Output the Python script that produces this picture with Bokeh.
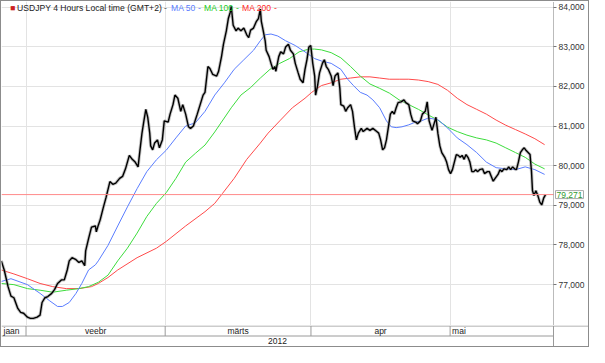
from bokeh.plotting import figure
from bokeh.layouts import column
from bokeh.models import Range1d, FixedTicker, CustomJSTickFormatter, Label, ColumnDataSource
from bokeh.core.properties import value
from bokeh.embed import file_html
from bokeh.resources import INLINE

# ---------------- data (x = trading days since 1 Feb 2012) ----------------
close_t = [-3.73,-3.29,-2.71,-2.27,-1.83,-1.24,-0.81,-0.37,0.22,0.66,
           1.10,1.68,2.12,2.42,2.86,3.29,3.88,4.32,4.76,5.34,
           5.78,6.22,6.52,6.95,7.54,7.98,8.42,8.86,9.00,9.44,
           9.88,10.47,10.61,10.91,11.20,11.64,12.08,12.66,13.10,13.54,
           14.13,14.57,15.01,15.59,16.03,16.47,16.91,17.20,17.50,17.79,
           18.08,18.37,18.67,18.81,19.11,19.40,19.84,20.13,20.57,20.86,
           21.45,21.74,22.18,22.47,22.91,23.35,23.65,24.09,24.52,24.82,
           25.26,25.84,26.28,26.72,27.01,27.45,27.75,28.18,28.77,29.06,
           29.50,29.79,30.23,30.53,30.82,30.97,31.26,31.70,31.99,32.43,
           32.87,33.31,33.60,33.89,34.33,34.77,35.07,35.36,35.51,35.80,
           36.09,36.24,36.68,36.97,37.26,37.56,37.70,38.14,38.43,38.87,
           39.17,39.60,39.90,40.34,40.63,41.07,41.37,41.80,42.10,42.39,
           42.68,42.97,43.27,43.56,43.70,44.00,44.29,44.73,45.02,45.31,
           45.61,46.05,46.34,46.63,47.07,47.36,47.51,47.95,48.24,48.54,
           48.98,49.27,49.56,49.85,50.15,50.59,50.88,51.46,51.90,52.34,
           52.93,53.22,53.51,53.81,54.10,54.39,54.69,54.98,55.27,55.56,
           55.86,56.15,56.59,57.03,57.32,57.76,58.05,58.35,58.79,59.08,
           59.52,59.81,60.25,60.54,60.83,61.27,61.71,61.86,62.15,62.45,
           62.74,63.18,63.47,63.76,64.06,64.35,64.64,64.93,65.23,65.52,
           65.81,66.11,66.40,66.69,66.98,67.28,67.57,67.86,68.16,68.45,
           68.89,69.18,69.63,69.92,70.21,70.50,70.79,71.23,71.52,71.82,
           72.11,72.55,72.84,73.13,73.43,73.72,74.01,74.30,74.60,74.89,
           75.18,75.48,75.77,76.06,76.28,76.43,76.65,76.94,77.23,77.53,
           77.82,78.11,78.40]
close_v = [77.60,77.37,76.95,76.71,76.67,76.40,76.30,76.28,76.18,76.15,
           76.15,76.18,76.23,76.55,76.67,76.70,76.78,76.88,77.03,77.12,
           77.12,77.37,77.60,77.68,77.63,77.56,77.60,77.48,77.85,78.16,
           78.45,78.48,78.33,78.50,78.64,78.93,79.20,79.60,79.53,79.56,
           79.68,79.73,79.92,80.26,80.16,80.09,79.97,80.40,80.82,81.13,
           81.42,81.22,80.82,80.50,80.40,80.57,80.65,80.45,80.65,81.13,
           81.10,81.30,81.54,81.78,81.70,81.37,81.54,81.30,80.98,80.94,
           81.00,81.30,81.54,81.78,81.85,82.50,82.45,82.30,82.26,82.38,
           82.75,83.06,83.40,83.71,83.87,84.02,83.54,83.40,83.47,83.40,
           83.47,83.30,83.23,83.42,83.47,83.64,83.71,83.95,83.64,83.40,
           83.15,82.91,82.75,82.58,82.43,82.50,82.38,82.75,82.87,82.82,
           82.99,83.06,82.91,82.82,82.58,82.34,82.18,82.09,82.43,82.67,
           82.99,83.03,82.58,82.26,81.78,82.02,82.34,82.58,82.67,82.50,
           82.43,82.26,82.02,82.26,82.34,81.95,81.54,81.50,81.37,81.46,
           81.54,81.37,80.98,80.65,80.82,80.94,80.86,80.94,80.89,80.94,
           80.86,80.82,80.65,80.40,80.45,80.65,80.98,81.30,81.37,81.30,
           81.46,81.59,81.61,81.66,81.59,81.54,81.30,81.13,81.10,81.06,
           81.13,81.30,81.37,81.61,81.13,80.89,81.13,81.22,80.82,80.50,
           80.33,80.21,80.09,79.90,79.80,79.90,80.09,80.28,80.26,80.21,
           80.26,80.16,80.28,80.21,80.09,79.85,79.85,79.90,79.85,79.90,
           79.92,79.80,79.85,79.85,79.73,79.61,79.68,79.78,79.90,79.85,
           79.92,79.90,79.97,79.90,79.97,79.92,79.90,80.09,80.33,80.40,
           80.45,80.38,80.33,80.28,79.85,79.37,79.25,79.37,79.25,79.08,
           79.01,79.18,79.271]

ma50_t = [-3.73,-2.27,0.22,2.12,3.59,4.76,5.49,6.52,7.54,8.42,9.44,10.47,10.91,12.37,
          13.84,15.30,16.76,18.23,19.69,21.16,22.62,24.09,25.55,27.01,28.48,29.94,31.41,
          32.87,34.33,35.36,36.09,36.97,37.99,39.17,40.63,42.10,43.56,44.58,46.05,47.51,
          48.54,49.41,50.44,51.46,52.34,53.37,54.39,55.12,55.86,56.73,57.76,58.79,59.66,
          60.69,62.15,63.62,65.08,66.54,68.01,69.47,70.94,72.40,73.87,75.33,76.79,78.26]
ma50_v = [77.08,77.15,77.00,76.78,76.59,76.45,76.45,76.55,76.78,77.03,77.37,77.50,77.60,77.99,
          78.48,78.96,79.42,79.85,80.15,80.39,80.70,81.00,81.08,81.37,81.78,82.09,82.43,
          82.67,82.91,83.15,83.30,83.32,83.27,83.15,83.03,82.87,82.70,82.64,82.58,82.43,
          82.18,82.02,81.85,81.78,81.66,81.46,81.13,80.98,80.96,80.98,81.03,81.10,81.13,
          81.20,81.16,80.95,80.70,80.53,80.33,80.09,79.95,79.92,79.90,79.97,79.90,79.78]

ma100_t = [-3.73,-1.83,0.22,2.12,4.03,6.08,7.98,9.44,10.91,12.37,13.84,15.30,16.76,18.23,
           19.69,21.16,22.62,24.09,25.55,27.01,28.48,29.50,30.97,32.43,33.89,35.36,36.82,
           38.29,39.75,41.21,42.68,43.56,44.58,46.05,47.51,48.98,50.44,51.90,53.37,54.83,
           56.30,57.76,59.22,60.69,62.15,63.62,65.08,66.54,68.01,69.47,70.94,72.40,73.87,
           75.33,76.79,78.26]
ma100_v = [77.03,77.00,76.90,76.86,76.81,76.86,76.90,76.95,77.06,77.24,77.60,77.92,78.30,78.72,
           79.05,79.32,79.68,80.09,80.31,80.52,80.85,81.10,81.46,81.78,81.97,82.21,82.43,
           82.58,82.70,82.87,82.94,82.94,82.92,82.85,82.72,82.50,82.26,82.06,81.95,81.83,
           81.66,81.54,81.42,81.28,81.15,80.97,80.86,80.77,80.70,80.65,80.57,80.45,80.33,
           80.21,80.04,79.92]

ma200_t = [-3.73,-1.83,0.22,2.12,4.03,6.08,7.98,9.88,10.91,12.37,13.84,16.76,19.69,21.16,
           24.09,27.01,28.48,29.65,31.41,33.31,35.36,36.53,38.29,40.19,42.10,43.12,44.58,
           46.05,47.51,48.98,50.44,51.90,53.37,54.83,56.30,57.76,59.22,60.69,62.15,63.62,
           65.08,66.54,68.01,69.47,70.94,72.40,73.87,75.33,76.79,78.26]
ma200_v = [77.37,77.27,77.15,77.03,76.95,76.90,76.90,76.95,77.03,77.18,77.37,77.68,77.92,78.09,
           78.48,78.84,79.05,79.30,79.68,80.16,80.57,80.82,81.13,81.46,81.70,81.85,82.02,
           82.09,82.18,82.21,82.24,82.24,82.21,82.18,82.18,82.18,82.16,82.12,82.05,81.90,
           81.70,81.54,81.42,81.30,81.15,81.02,80.91,80.80,80.68,80.53]

y_ticks = [77, 78, 79, 80, 81, 82, 83, 84]
month_names = ["jaan", "veebr", "märts", "apr", "mai"]
month_starts = [0, 21, 43, 64]          # first trading day of veebr, märts, apr, mai
year_label = "2012"
x_lo, x_hi = -3.7, 79.6                 # visible time span of the price pane
y_lo, y_hi = 75.97, 84.14

FONT = "Liberation Sans"
GRID = "#e3e3e3"
LINE = "#9a9a9a"
C50, C100, C200 = "#5a7dff", "#3ddc3d", "#ff4a4a"

# ---------------- main price panel (frame spans the price-scale column too) ----------------
W, FH, PANE = 587, 324, 552
x_end = x_lo + W * (x_hi - x_lo) / PANE
p = figure(frame_width=W, frame_height=FH,
           x_range=Range1d(x_lo, x_end), y_range=Range1d(y_lo, y_hi),
           x_axis_location=None, y_axis_location="right",
           output_backend="svg", toolbar_location=None, min_border=0,
           outline_line_color=None, background_fill_color="white", border_fill_color="white")

p.xgrid.ticker = FixedTicker(ticks=month_starts)
p.xgrid.grid_line_color = GRID
p.ygrid.ticker = FixedTicker(ticks=y_ticks)
p.ygrid.grid_line_color = GRID
try:
    p.ygrid.cross_bounds = (x_lo, x_hi)
except Exception:
    p.ygrid.visible = False
    p.segment([x_lo] * len(y_ticks), y_ticks, [x_hi] * len(y_ticks), y_ticks,
              line_color=GRID, line_width=1)

ax = p.yaxis[0]
ax.fixed_location = x_hi
ax.ticker = FixedTicker(ticks=y_ticks)
ax.formatter = CustomJSTickFormatter(code="return tick.toFixed(3).replace('.', ',');")
ax.axis_line_color = "#777777"
ax.axis_line_dash = "1 1"
ax.major_tick_line_color = "#777777"
ax.major_tick_out = 3
ax.major_tick_in = 0
ax.minor_tick_line_color = None
ax.major_label_standoff = 2
ax.major_label_text_font = FONT
ax.major_label_text_font_size = "8.5px"
ax.major_label_text_color = "#333333"

src = ColumnDataSource(dict(t=close_t, v=close_v))
p.line(ma200_t, ma200_v, color=C200, line_width=1)
p.line(ma100_t, ma100_v, color=C100, line_width=1)
p.line(ma50_t, ma50_v, color=C50, line_width=1)
p.line("t", "v", source=src, color="#8f8f8f", line_width=3.2, alpha=0.55)
p.line("t", "v", source=src, color="black", line_width=1.4)

last = close_v[-1]
p.line([x_lo, x_hi], [last, last], line_color="#ff8a8a", line_width=1)
p.add_layout(Label(x=x_hi, y=last, x_offset=2, padding=1,
                   text=f"{last:.3f}".replace(".", ","), text_font=FONT,
                   text_font_size="8.5px", text_color="#2f9a2f", text_baseline="middle",
                   border_line_color="#aaaaaa", background_fill_color="white"))

# header legend
legend_y = FH - 6
items = [("\u25a0", "#cc2222", 8.5), ("USDJPY 4 Hours Local time (GMT+2)", "#222222", 15.5),
         ("-", "#555555", 162.5), ("MA 50", C50, 169.5), ("-", C50, 196.5),
         ("MA 100", "#22cc22", 202.5), ("-", "#22cc22", 234.5),
         ("MA 200", "#ff2a2a", 240.5), ("-", "#ff2a2a", 272.5)]
for txt, col, xx in items:
    p.add_layout(Label(x=xx, y=legend_y, x_units="screen", y_units="screen", text=txt,
                       text_font=FONT, text_font_size="8.6px", text_color=col,
                       text_baseline="middle"))

# ---------------- month / year strip ----------------
b = figure(frame_width=W, frame_height=21,
           x_range=p.x_range, y_range=Range1d(-0.05, 2.05),
           x_axis_location=None, y_axis_location=None,
           output_backend="svg", toolbar_location=None, min_border=0,
           outline_line_color=None, background_fill_color="white", border_fill_color="white")
b.grid.visible = False

edges = [x_lo] + month_starts + [x_hi]
seg_x0 = [x_lo, x_lo] + month_starts + [x_hi]
seg_x1 = [x_end, x_hi] + month_starts + [x_hi]
seg_y0 = [2, 1] + [1] * len(month_starts) + [0]
seg_y1 = [2, 1] + [2] * len(month_starts) + [2]
b.segment(seg_x0, seg_y0, seg_x1, seg_y1, line_color=LINE, line_width=1)

aligns = ["left", "center", "center", "center", "left"]
mx = [edges[i] if aligns[i] == "left" else (edges[i] + edges[i + 1]) / 2 for i in range(len(month_names))]
msrc = ColumnDataSource(dict(x=mx, y=[1.5] * len(mx), text=month_names, align=aligns,
                             off=[2 if a == "left" else 0 for a in aligns]))
b.text("x", "y", text="text", source=msrc, text_align="align", x_offset="off",
       text_baseline="middle", text_font=value(FONT), text_font_size="8.5px", text_color="#222222")
b.text([(x_lo + x_hi) / 2], [0.5], text=[year_label], text_align="center",
       text_baseline="middle", text_font=value(FONT), text_font_size="8.5px", text_color="#222222")

layout = column(p, b, spacing=0, styles={"border": "1px solid #8c8c8c"})
open("out.html", "w").write(file_html(layout, INLINE))
